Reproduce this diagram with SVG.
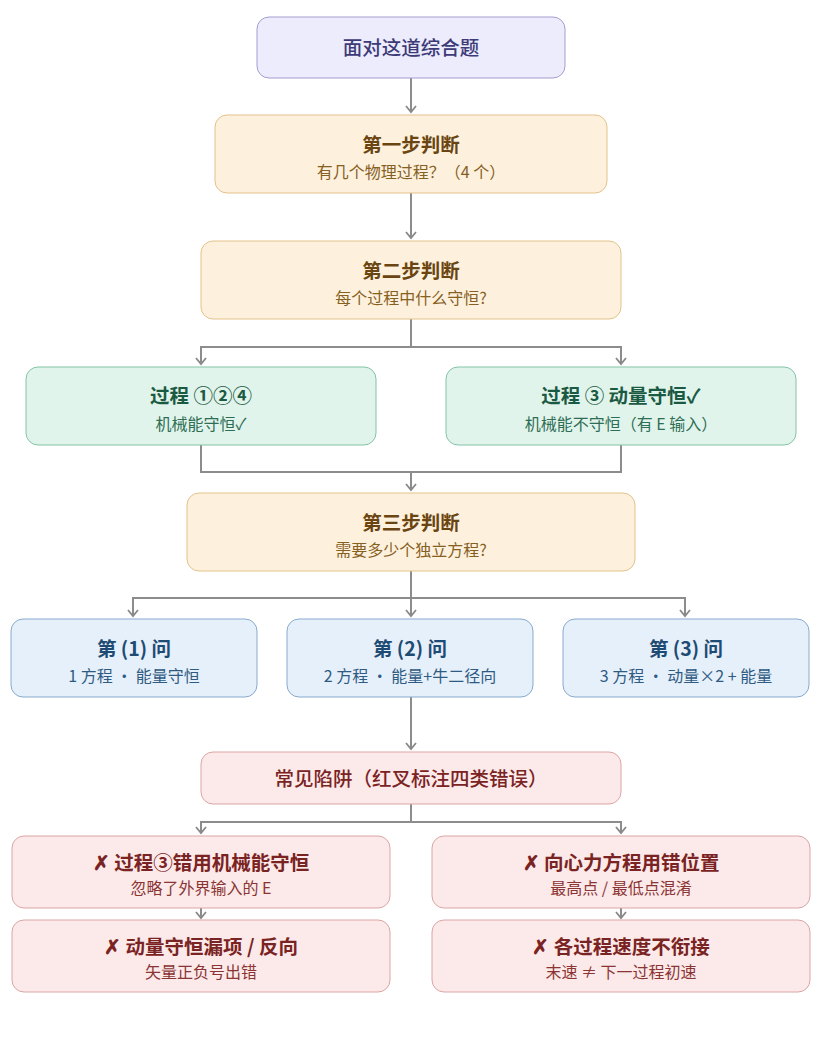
<svg xmlns="http://www.w3.org/2000/svg" width="817" height="1042" viewBox="0 0 817 1042">
<defs>
<marker id="ah" viewBox="0 0 12 12" refX="10" refY="6" markerWidth="12" markerHeight="12" markerUnits="userSpaceOnUse" orient="auto">
<path d="M4,1 L10,6 L4,11" fill="none" stroke="#888" stroke-width="1.8"/>
</marker>
<style>
text{font-family:"Noto Sans CJK SC","Noto Sans",sans-serif;text-anchor:middle}
.c{fill:none;stroke:#8c8c8c;stroke-width:2}
.a{marker-end:url(#ah)}
.t{font-size:19.5px;font-weight:bold}
.s{font-size:16px}
.pur rect{fill:#ECECFC;stroke:#A69CD0;stroke-width:1}
.pur text{fill:#3D3A78}
.org rect{fill:#FDF1DE;stroke:#E3C189;stroke-width:1}
.org .t{fill:#6A4511}
.org .s{fill:#86601F}
.grn rect{fill:#E1F4EC;stroke:#82C4A6;stroke-width:1}
.grn .t{fill:#1B5A42}
.grn .s{fill:#2E6E55}
.blu rect{fill:#E6F0FA;stroke:#86AACD;stroke-width:1}
.blu .t{fill:#1E4B74}
.blu .s{fill:#2F5B83}
.red rect{fill:#FCE9E9;stroke:#DBA5A5;stroke-width:1}
.red .t{fill:#7A2323}
.red .s{fill:#8A3434}
</style>
</defs>
<rect width="817" height="1042" fill="#ffffff"/>
<g id="connectors">
<path class="c a" d="M411,78 V112"/>
<path class="c a" d="M411,193 V238"/>
<path class="c" d="M411,319 V347 M200,347 H622"/>
<path class="c a" d="M201,347 V364"/>
<path class="c a" d="M621,347 V364"/>
<path class="c" d="M201,445 V472 H621 V445"/>
<path class="c a" d="M411,472 V490"/>
<path class="c" d="M411,571 V598 M132,598 H686"/>
<path class="c a" d="M133,598 V616"/>
<path class="c a" d="M411,598 V616"/>
<path class="c a" d="M685,598 V616"/>
<path class="c a" d="M411,697 V749"/>
<path class="c" d="M411,804 V822 M200,822 H622"/>
<path class="c a" d="M201,822 V833"/>
<path class="c a" d="M621,822 V833"/>
<path class="c a" d="M201,908 V918"/>
<path class="c a" d="M621,908 V918"/>
</g>
<g id="start" class="pur">
<rect x="257" y="17" width="308" height="61" rx="12"/>
<text x="411" y="55" font-size="19.5" font-weight="500">面对这道综合题</text>
</g>
<g id="step1" class="org">
<rect x="215" y="115" width="392" height="78" rx="12"/>
<text class="t" x="411" y="152">第一步判断</text>
<text class="s" x="411" y="178">有几个物理过程？（4 个）</text>
</g>
<g id="step2" class="org">
<rect x="201" y="241" width="420" height="78" rx="12"/>
<text class="t" x="411" y="278">第二步判断</text>
<text class="s" x="411" y="304">每个过程中什么守恒?</text>
</g>
<g id="procA" class="grn">
<rect x="26" y="367" width="350" height="78" rx="12"/>
<text class="t" x="201" y="403">过程 ①②④</text>
<text class="s" x="201" y="430">机械能守恒✓</text>
</g>
<g id="procB" class="grn">
<rect x="446" y="367" width="350" height="78" rx="12"/>
<text class="t" x="621" y="403">过程 ③ 动量守恒✓</text>
<text class="s" x="621" y="430">机械能不守恒（有 E 输入）</text>
</g>
<g id="step3" class="org">
<rect x="187" y="493" width="448" height="78" rx="12"/>
<text class="t" x="411" y="530">第三步判断</text>
<text class="s" x="411" y="556">需要多少个独立方程?</text>
</g>
<g id="q1" class="blu">
<rect x="11" y="619" width="246" height="78" rx="12"/>
<text class="t" x="134" y="656">第 (1) 问</text>
<text class="s" x="134" y="682">1 方程 · 能量守恒</text>
</g>
<g id="q2" class="blu">
<rect x="287" y="619" width="246" height="78" rx="12"/>
<text class="t" x="410" y="656">第 (2) 问</text>
<text class="s" x="410" y="682">2 方程 · 能量+牛二径向</text>
</g>
<g id="q3" class="blu">
<rect x="563" y="619" width="246" height="78" rx="12"/>
<text class="t" x="686" y="656">第 (3) 问</text>
<text class="s" x="686" y="682">3 方程 · 动量×2 + 能量</text>
</g>
<g id="pitfalls" class="red">
<rect x="201" y="752" width="420" height="52" rx="12"/>
<text x="411" y="786" font-size="19.5" font-weight="500" fill="#7A2323">常见陷阱（红叉标注四类错误）</text>
</g>
<g id="err1" class="red">
<rect x="12" y="836" width="378" height="72" rx="12"/>
<text class="t" x="201" y="870">✗ 过程③错用机械能守恒</text>
<text class="s" x="201" y="894">忽略了外界输入的 E</text>
</g>
<g id="err2" class="red">
<rect x="432" y="836" width="378" height="72" rx="12"/>
<text class="t" x="621" y="870">✗ 向心力方程用错位置</text>
<text class="s" x="621" y="894">最高点 / 最低点混淆</text>
</g>
<g id="err3" class="red">
<rect x="12" y="920" width="378" height="72" rx="12"/>
<text class="t" x="201" y="954">✗ 动量守恒漏项 / 反向</text>
<text class="s" x="201" y="978">矢量正负号出错</text>
</g>
<g id="err4" class="red">
<rect x="432" y="920" width="378" height="72" rx="12"/>
<text class="t" x="621" y="954">✗ 各过程速度不衔接</text>
<text class="s" x="621" y="978">末速 ≠ 下一过程初速</text>
</g>
</svg>
